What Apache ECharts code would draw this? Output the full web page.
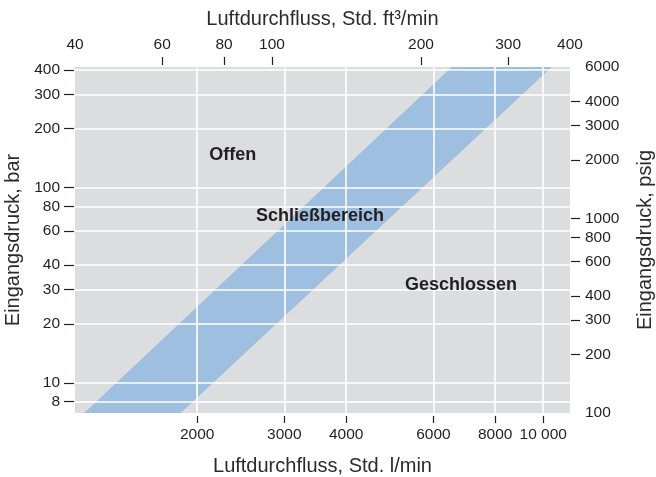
<!DOCTYPE html>
<html>
<head>
<meta charset="utf-8">
<script src="https://cdn.jsdelivr.net/npm/echarts@6/dist/echarts.min.js"></script>
<style>
  html, body { margin: 0; padding: 0; background: #fff; }
  #chart { width: 656px; height: 477px; }
</style>
</head>
<body>
<div id="chart"></div>
<script>
// Achsen: unten l/min, oben ft3/min, links bar, rechts psig (alle log)
const flowLpmRange = [1133, 11327];
const flowLpmTicks = [2000, 3000, 4000, 6000, 8000, 10000];
const flowLpmLabels = ['2000', '3000', '4000', '6000', '8000', '10 000'];

const flowCfmRange = [40, 400];
const flowCfmLabels = [40, 60, 80, 100, 200, 300, 400];
const flowCfmTicks = [60, 80, 100, 200, 300];

const pressBarRange = [7, 414];
const pressBarTicks = [8, 10, 20, 30, 40, 60, 80, 100, 200, 300, 400];

const pressPsigRange = [100, 6000];
const pressPsigLabels = [100, 200, 300, 400, 600, 800, 1000, 2000, 3000, 4000, 6000];
const pressPsigTicks = [200, 300, 400, 600, 800, 1000, 2000, 3000, 4000];

// Schließbereich, Grenzen als [l/min, bar]
const bandOpenEdge = [[1183, 7], [6535, 414]];
const bandClosedEdge = [[1853, 7], [10405, 414]];

// Bereichsbeschriftungen
const regionNames = ['Offen', 'Schließbereich', 'Geschlossen'];
const regionAnchors = [[2360, 146], [3542, 71], [6825, 31.7]];

const textColor = '#231f20';
const fontFam = '"Liberation Sans", Arial, Helvetica, sans-serif';

let chart = echarts.init(document.getElementById('chart'));

const tickLabelStyle = { color: textColor, fontSize: 15.5, fontFamily: fontFam };
const nameStyle = { color: '#2b2b2b', fontSize: 20, fontFamily: fontFam };
const plain = v => String(Math.round(v));

let option = {
  animation: false,
  grid: {
    left: 75, right: 86, top: 67, bottom: 64,
    outerBoundsMode: 'none', containLabel: false,
    show: true, backgroundColor: '#dcdddf', borderWidth: 0
  },
  xAxis: [
    {
      type: 'log', logBase: 10, position: 'bottom', z: 3,
      min: flowLpmRange[0], max: flowLpmRange[1], offset: 3,
      name: 'Luftdurchfluss, Std. l/min', nameLocation: 'middle', nameGap: 40,
      nameTextStyle: nameStyle,
      axisLine: { show: false },
      axisTick: { show: true, length: 7, customValues: flowLpmTicks,
        lineStyle: { color: textColor, width: 1.2 } },
      axisLabel: { customValues: flowLpmTicks, margin: 11, ...tickLabelStyle,
        formatter: v => flowLpmLabels[flowLpmTicks.indexOf(Math.round(v))] ?? '' },
      splitLine: { show: true, lineStyle: { color: '#ffffff', width: 1.6 } }
    },
    {
      type: 'log', logBase: 10, position: 'top', z: 3,
      min: flowCfmRange[0], max: flowCfmRange[1], offset: 2,
      name: 'Luftdurchfluss, Std. ft³/min', nameLocation: 'middle', nameGap: 36,
      nameTextStyle: nameStyle,
      axisLine: { show: false },
      axisTick: { show: true, length: 8, customValues: flowCfmTicks,
        lineStyle: { color: textColor, width: 1.2 } },
      axisLabel: { customValues: flowCfmLabels, margin: 12, ...tickLabelStyle,
        formatter: plain },
      splitLine: { show: false }
    }
  ],
  yAxis: [
    {
      type: 'log', logBase: 10, position: 'left', z: 3,
      min: pressBarRange[0], max: pressBarRange[1], offset: 1,
      name: 'Eingangsdruck, bar', nameLocation: 'middle', nameGap: 48,
      nameTextStyle: nameStyle,
      axisLine: { show: false },
      axisTick: { show: true, length: 10, customValues: pressBarTicks,
        lineStyle: { color: textColor, width: 1.2 } },
      axisLabel: { customValues: pressBarTicks, margin: 14, ...tickLabelStyle,
        formatter: plain },
      splitLine: { show: true, lineStyle: { color: '#ffffff', width: 1.6 } }
    },
    {
      type: 'log', logBase: 10, position: 'right', z: 3,
      min: pressPsigRange[0], max: pressPsigRange[1], offset: 1,
      name: 'Eingangsdruck, psig', nameLocation: 'middle', nameGap: 64,
      nameTextStyle: nameStyle,
      axisLine: { show: false },
      axisTick: { show: true, length: 9, customValues: pressPsigTicks,
        lineStyle: { color: textColor, width: 1.2 } },
      axisLabel: { customValues: pressPsigLabels, margin: 14, ...tickLabelStyle,
        formatter: plain },
      splitLine: { show: false }
    }
  ],
  series: [
    {
      // Schließbereich als Band
      type: 'custom', xAxisIndex: 0, yAxisIndex: 0, z: 2,
      data: [bandOpenEdge[0]],
      renderItem: function (params, api) {
        const pts = [bandOpenEdge[0], bandOpenEdge[1], bandClosedEdge[1], bandClosedEdge[0]]
          .map(p => api.coord(p));
        return {
          type: 'polygon',
          shape: { points: pts },
          style: { fill: '#9ebfe0' }
        };
      },
      clip: true,
      silent: true
    },
    {
      type: 'custom', xAxisIndex: 0, yAxisIndex: 0, z: 5,
      data: regionAnchors,
      renderItem: function (params, api) {
        const p = api.coord([api.value(0), api.value(1)]);
        return {
          type: 'text', x: p[0], y: p[1],
          style: {
            text: regionNames[params.dataIndex],
            fill: textColor, fontSize: 18, fontWeight: 'bold', fontFamily: fontFam,
            align: 'center', verticalAlign: 'middle'
          }
        };
      },
      silent: true
    }
  ]
};
chart.setOption(option);
</script>
</body>
</html>
